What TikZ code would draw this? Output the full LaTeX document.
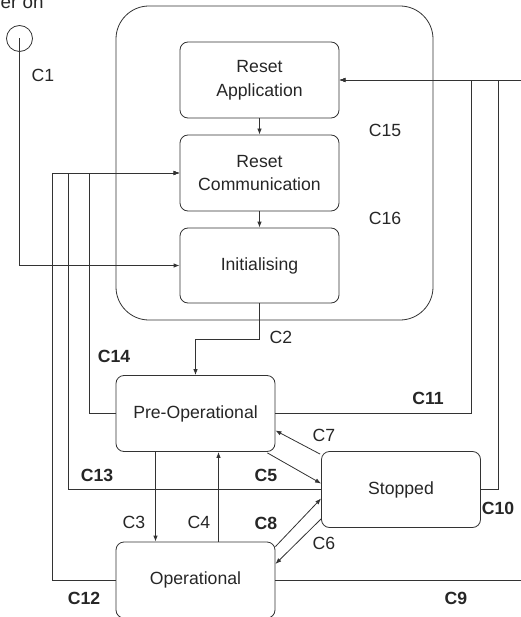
\documentclass[tikz,border=0pt]{standalone}
\usepackage{fontspec}
\setmainfont{Liberation Sans}
\usetikzlibrary{arrows.meta,calc}
\definecolor{ln}{HTML}{333333}
\tikzset{
  state/.style={draw=ln, line width=0.8bp, rounded corners=8bp, minimum width=159bp, minimum height=76bp, align=center, inner sep=2bp},
  arr/.style={draw=ln, line width=0.8bp, -{Latex[length=6bp,width=4.5bp]}},
  ln/.style={draw=ln, line width=0.8bp},
  lab/.style={inner sep=0pt},
  blab/.style={inner sep=0pt, font=\fontsize{17.7}{21}\selectfont\bfseries},
}
\begin{document}
\begin{tikzpicture}[x=1bp,y=-1bp,font=\fontsize{17.7}{21}\selectfont, text=black!85]
\useasboundingbox (0,0) rectangle (521,617);
\clip (0,0) rectangle (521,617);
% outer rounded box
\node[draw=ln, line width=0.8bp, rounded corners=33bp, minimum width=317bp, minimum height=314bp, inner sep=0pt] (outer) at (274.5,163) {};
% states
\node[state] (ra) at (259.5,80) {Reset\\[3bp]Application};
\node[state] (rc) at (259.5,173) {Reset\\[3bp]Communication};
\node[state, minimum height=75bp] (in) at (259.5,265.5) {Initialising};
\node[state] (po) at (195.5,413.5) {Pre-Operational};
\node[state, minimum height=76bp] (op) at (195.5,580) {Operational};
\node[state] (st) at (401,489.5) {Stopped};
% power on
\node[draw=ln, line width=0.8bp, circle, minimum size=26bp, inner sep=0pt] (pw) at (19.5,38.5) {};
\node[anchor=base east, inner sep=0pt, font=\fontsize{18.9}{22}\selectfont] (pwt) at (43.8,9) {Power on};
% C1
\draw[arr] (pw.center) |- (in.west);
% internal
\draw[arr] (ra.south) -- (rc.north);
\draw[arr] (rc.south) -- (in.north);
% C2
\draw[arr] (in.south) -- ++(0,36) -| (po.north);
% left loops
\draw[arr] (op.west) -- ++(-63,0) |- (rc.west);
\draw[arr] (st.west) -- ++(-253,0) |- (rc.west);
\draw[arr] (po.west) -- ++(-26,0) |- (rc.west);
% right loops
\draw[arr] (po.east) -- ++(196,0) |- (ra.east);
\draw[arr] (st.east) -- ++(17,0) |- (ra.east);
\draw[arr] (op.east) -- ++(270,0) |- (ra.east);
% C3 C4
\draw[arr] ([xshift=-40bp]po.south) -- ([xshift=-40bp]op.north);
\draw[arr] ([xshift=23bp]op.north) -- ([xshift=23bp]po.south);
% C5 C7 C8 C6
\draw[arr] ($(po.south east)+(-8,1)$) -- ($(st.west)+(0,-6)$);
\draw[arr] ($(st.north west)+(-1,3)$) -- ($(po.east)+(0,17)$);
\draw[arr] ($(op.north east)+(0,5)$) -- ($(st.west)+(0,9)$);
\draw[arr] ($(st.south west)+(0,-9)$) -- ($(op.east)+(0,-16)$);
% labels
\node[lab] (l1) at (43,75) {C1};
\node[lab] (l15) at (385,130) {C15};
\node[lab] (l16) at (385,218) {C16};
\node[lab] (l2) at (281,337) {C2};
\node[blab] (l14) at (114,356) {C14};
\node[blab] (l11) at (428,398) {C11};
\node[lab] (l7) at (324,435) {C7};
\node[blab] (l13) at (97,475) {C13};
\node[blab] (l5) at (266,475) {C5};
\node[blab] (l10) at (498,508) {C10};
\node[lab] (l3) at (134,522) {C3};
\node[lab] (l4) at (199,522) {C4};
\node[blab] (l8) at (266,523) {C8};
\node[lab] (l6) at (324,543) {C6};
\node[blab] (l12) at (84,598) {C12};
\node[blab] (l9) at (456,598) {C9};
\end{tikzpicture}
\end{document}
